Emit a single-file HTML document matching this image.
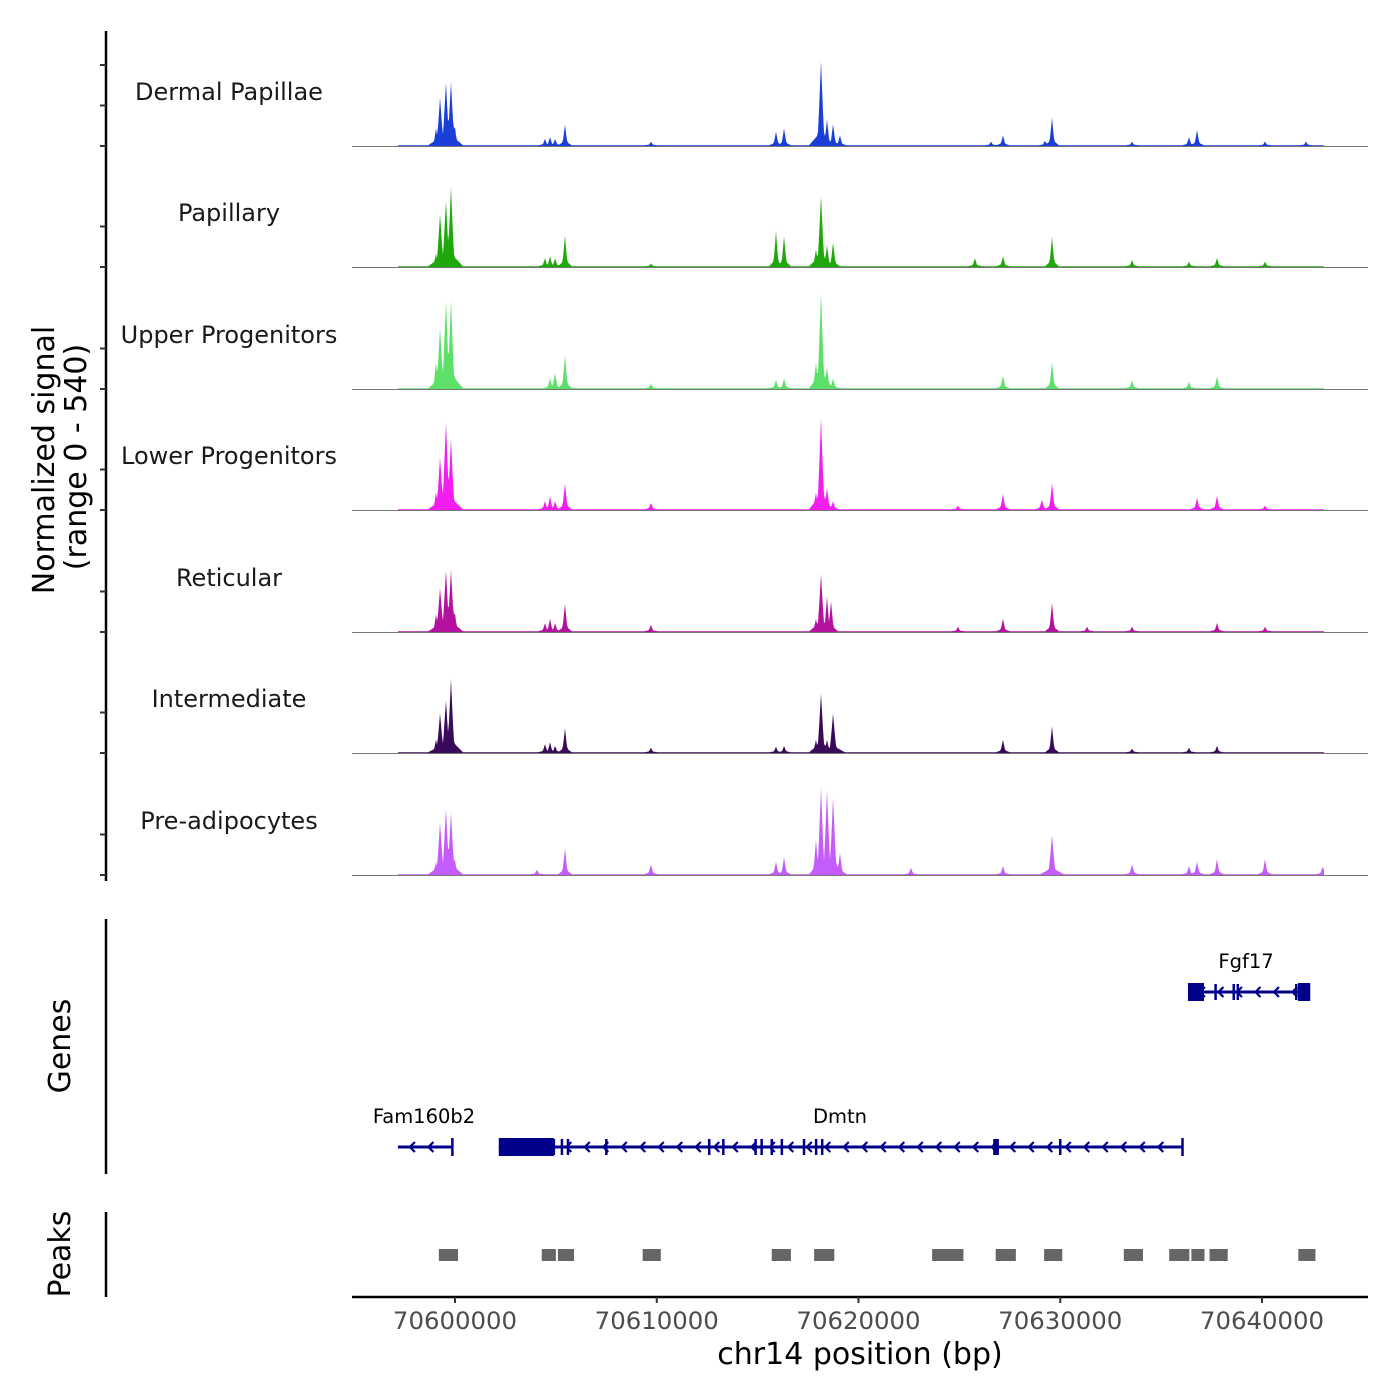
<!DOCTYPE html>
<html><head><meta charset="utf-8"><style>
html,body{margin:0;padding:0;background:#fff;}
svg{display:block;font-family:"DejaVu Sans","Liberation Sans",sans-serif;}
</style></head><body>
<svg id="chart" width="1400" height="1400" viewBox="0 0 1400 1400" xmlns="http://www.w3.org/2000/svg">
<g id="tracks"></g>
<g id="axes"></g>
<g id="genes"></g>
<g id="peaks"></g>
</svg>
<script>
// ---- data ----
const trackNames = ["Dermal Papillae","Papillary","Upper Progenitors","Lower Progenitors","Reticular","Intermediate","Pre-adipocytes"];
const trackColors = ["#1a3fd9","#1ea80a","#5de06a","#f21ef0","#b4129e","#3a0a5a","#c35cfa"];
// peak positions (kb) and heights (signal units, 0-100)
const peakPos = {
 "Dermal Papillae":[70599.06,70599.26,70599.55,70599.80,70599.98,70604.46,70604.71,70604.96,70605.45,70609.71,70615.91,70616.31,70618.14,70618.44,70618.74,70619.08,70627.16,70629.24,70629.59,70636.38,70636.78,70633.56,70640.15,70642.18,70626.57],
 "Papillary":[70599.06,70599.26,70599.55,70599.80,70604.46,70604.71,70604.96,70605.45,70609.71,70615.91,70616.31,70618.14,70617.89,70618.44,70618.74,70627.16,70625.77,70629.59,70633.56,70636.38,70637.77,70640.15],
 "Upper Progenitors":[70599.06,70599.26,70599.55,70599.80,70599.98,70604.71,70604.96,70605.45,70609.71,70615.91,70616.31,70618.14,70617.89,70618.44,70618.74,70627.16,70629.59,70633.56,70636.38,70637.77],
 "Lower Progenitors":[70599.06,70599.26,70599.55,70599.80,70604.46,70604.71,70604.96,70605.45,70609.71,70618.14,70617.89,70618.44,70618.74,70624.93,70627.16,70629.09,70629.59,70636.78,70637.77,70640.15],
 "Reticular":[70599.06,70599.26,70599.55,70599.80,70599.98,70604.46,70604.71,70604.96,70605.45,70609.71,70618.14,70618.44,70618.64,70617.89,70624.93,70627.16,70629.59,70631.33,70633.56,70637.77,70640.15],
 "Intermediate":[70599.06,70599.26,70599.55,70599.80,70599.98,70604.46,70604.71,70604.96,70605.45,70609.71,70615.91,70616.31,70618.14,70617.89,70618.44,70618.74,70627.16,70629.59,70633.56,70636.38,70637.77],
 "Pre-adipocytes":[70599.06,70599.26,70599.55,70599.80,70599.98,70605.45,70604.06,70609.71,70615.91,70616.31,70618.14,70618.44,70618.74,70617.89,70619.08,70622.60,70627.16,70629.59,70633.56,70636.38,70636.78,70637.77,70640.15,70643.01]
};
const peakHeight = {
 "Dermal Papillae":[20,55,72,72,25,8,10,8,24,5,16,20,95,30,25,12,12,6,32,10,18,5,5,5,5],
 "Papillary":[15,60,75,90,10,12,10,36,4,40,35,80,20,25,28,12,10,34,8,6,10,6],
 "Upper Progenitors":[30,70,100,100,15,12,18,38,6,10,12,107,30,25,12,15,30,10,8,14],
 "Lower Progenitors":[20,60,100,80,10,15,10,30,8,103,20,25,10,5,18,12,30,14,16,5],
 "Reticular":[20,50,70,70,25,10,15,10,32,8,65,40,35,15,6,15,33,6,6,10,6],
 "Intermediate":[15,45,60,83,12,10,12,8,28,6,7,8,67,15,15,45,15,30,5,6,8],
 "Pre-adipocytes":[15,60,75,70,20,30,6,12,15,20,98,95,88,40,25,8,10,45,12,10,15,18,18,10]
};
const xTicks = [70600000,70610000,70620000,70630000,70640000];
const peakStarts = [70599.20,70604.30,70605.10,70609.30,70615.70,70617.80,70623.65,70626.80,70629.20,70633.15,70635.40,70636.50,70637.40,70641.80];
const peakEnds   = [70600.15,70605.00,70605.90,70610.20,70616.65,70618.80,70625.20,70627.80,70630.10,70634.10,70636.40,70637.15,70638.30,70642.65];
const geneNames = ["Fam160b2","Dmtn","Fgf17"];
const geneStarts = [70597.17,70602.17,70636.33];
const geneEnds   = [70599.87,70636.06,70642.33];
const geneRows   = [1,1,0];
const dmtnExons = [70602.3,70604.9,70605.3,70605.6,70607.5,70612.6,70613.3,70614.9,70615.2,70615.7,70616.2,70617.3,70617.9,70618.2,70626.8,70626.9,70630.0];
const fgfExons = [70637.7,70638.6,70638.8,70641.7];

// ---- scales ----
const X0 = 455, KX = 0.020175; // px per bp
const xb = bp => X0 + (bp - 70600000) * KX;
const xk = kb => xb(kb * 1000);
const trackBase = [146,267,389,510,632,753,875];
const yUnit = 0.9; // px per signal unit
const NS = "http://www.w3.org/2000/svg";
function mk(tag, attrs, parent){const e=document.createElementNS(NS,tag);for(const k in attrs)e.setAttribute(k,attrs[k]);parent.appendChild(e);return e;}

// ---- signal tracks ----
const tg = document.getElementById('tracks');
trackNames.forEach((name,i)=>{
  const base = trackBase[i];
  const g = mk('g',{},tg);
  
  
  const pos = peakPos[name], hts = peakHeight[name];
  const xs0 = Math.round(xk(70597.15)), xs1 = Math.round(xk(70643.05));
  let d = `M${xs0},${base}`;
  for(let px=xs0; px<=xs1; px++){
    let v = 0.8;
    pos.forEach((p,j)=>{
      const c = xk(p), h = hts[j];
      const w = h>40 ? 4 : 3.2;
      const dx = Math.abs(px - c);
      let s = Math.max(0, h*Math.pow(Math.max(0,1 - dx/w),1.3));
      const broad = h>40 ? h*0.16*Math.max(0,1-dx/12) : h*0.2*Math.max(0,1-dx/7);
      v = Math.max(v, s, broad + 0.8);
    });
    d += `L${px},${(base - v*yUnit).toFixed(1)}`;
  }
  d += `L${xs1},${base}Z`;
  const path = mk('path',{d:d,fill:trackColors[i]},g);
  
  
  const bl = mk('line',{x1:352,x2:1368,y1:base+0.5,y2:base+0.5,stroke:'#777','stroke-width':1},g);
  
  
  const t = mk('text',{x:229,y:base-46,'text-anchor':'middle','font-size':24,fill:'#1a1a1a'},g);
  t.textContent = name;
  
  
});

// ---- axes ----
const ag = document.getElementById('axes');
let a;
a = mk('line',{x1:106,x2:106,y1:31,y2:881,stroke:'#000','stroke-width':2.5},ag);
 
for(let i=0;i<7;i++){
  [trackBase[i]-40.5, trackBase[i]].forEach(y=>{
    const tk = mk('line',{x1:100,x2:106,y1:y,y2:y,stroke:'#333','stroke-width':2},ag);
     
  });
  const y2 = trackBase[i]-81;
  if(i===0){const tk=mk('line',{x1:100,x2:106,y1:y2,y2:y2,stroke:'#333','stroke-width':2},ag);
     }
}
a = mk('text',{transform:'translate(54,460) rotate(-90)','text-anchor':'middle','font-size':30,fill:'#000'},ag);
a.textContent='Normalized signal';
 
a = mk('text',{transform:'translate(86,457) rotate(-90)','text-anchor':'middle','font-size':30,fill:'#000'},ag);
a.textContent='(range 0 - 540)';
 
a = mk('line',{x1:106,x2:106,y1:919,y2:1174,stroke:'#000','stroke-width':2.5},ag);
 
a = mk('text',{transform:'translate(70,1046) rotate(-90)','text-anchor':'middle','font-size':30,fill:'#000'},ag);
a.textContent='Genes';
 
a = mk('line',{x1:106,x2:106,y1:1212,y2:1297,stroke:'#000','stroke-width':2.5},ag);
 
a = mk('text',{transform:'translate(70,1254) rotate(-90)','text-anchor':'middle','font-size':30,fill:'#000'},ag);
a.textContent='Peaks';
 
a = mk('line',{x1:352,x2:1368,y1:1297,y2:1297,stroke:'#000','stroke-width':2.5},ag);
 
xTicks.forEach(v=>{
  const x = xb(v);
  const tk = mk('line',{x1:x,x2:x,y1:1297,y2:1303,stroke:'#333','stroke-width':2},ag);
   
  const tl = mk('text',{x:x,y:1329,'text-anchor':'middle','font-size':24.4,fill:'#4d4d4d'},ag);
  tl.textContent = String(v);
   
});
a = mk('text',{x:860,y:1364,'text-anchor':'middle','font-size':30,fill:'#000'},ag);
a.textContent='chr14 position (bp)';
 

// ---- genes ----
const gg = document.getElementById('genes');
const GC = '#00008b';
const rowY = [992,1147];
function arrows(g, x1, x2, y, step){
  for(let x=x1+12; x<x2-6; x+=step){
    const ar = mk('path',{d:`M${x+5},${y-5}L${x},${y}L${x+5},${y+5}`,fill:'none',stroke:GC,'stroke-width':2.2},g);
     
  }
}
geneNames.forEach((n,i)=>{
  const g = mk('g',{},gg);
  
  
  const y = rowY[geneRows[i]];
  const x1 = xk(geneStarts[i]), x2 = xk(geneEnds[i]);
  const ln = mk('line',{x1:x1,x2:x2,y1:y,y2:y,stroke:GC,'stroke-width':3},g);
   
  arrows(g,x1,x2,y,18.5);
  const e = mk('line',{x1:x2,x2:x2,y1:y-9,y2:y+9,stroke:GC,'stroke-width':2.5},g);
   
  const t = mk('text',{x:(x1+x2)/2,y:y-24,'text-anchor':'middle','font-size':19.5,fill:'#000'},g);
  if(n==='Dmtn') t.setAttribute('x',840);
  if(n==='Fam160b2') t.setAttribute('x',424);
  if(n==='Fgf17') t.setAttribute('x',1246);
  t.textContent = n;
   
  if(n==='Dmtn'){
    const b = mk('rect',{x:x1,y:y-9,width:xk(70604.9)-x1,height:18,fill:GC},g);
     
    dmtnExons.forEach(p=>{const xx=xk(p);const ex=mk('line',{x1:xx,x2:xx,y1:y-8,y2:y+8,stroke:GC,'stroke-width':p===70626.8?5:2.5},g);
       });
  }
  if(n==='Fgf17'){
    let b = mk('rect',{x:x1,y:y-9,width:16,height:18,fill:GC},g);
     
    b = mk('rect',{x:x2-11,y:y-9,width:11,height:18,fill:GC},g);
     
    fgfExons.forEach(p=>{const xx=xk(p);const ex=mk('line',{x1:xx,x2:xx,y1:y-8,y2:y+8,stroke:GC,'stroke-width':2.5},g);
       });
  }
});

// ---- peaks ----
const pg = document.getElementById('peaks');
peakStarts.forEach((s,i)=>{
  const x1 = xk(s), x2 = xk(peakEnds[i]);
  const r = mk('rect',{x:x1,y:1249,width:x2-x1,height:12,fill:'#666'},pg);
  
  
});
</script>
</body></html>
